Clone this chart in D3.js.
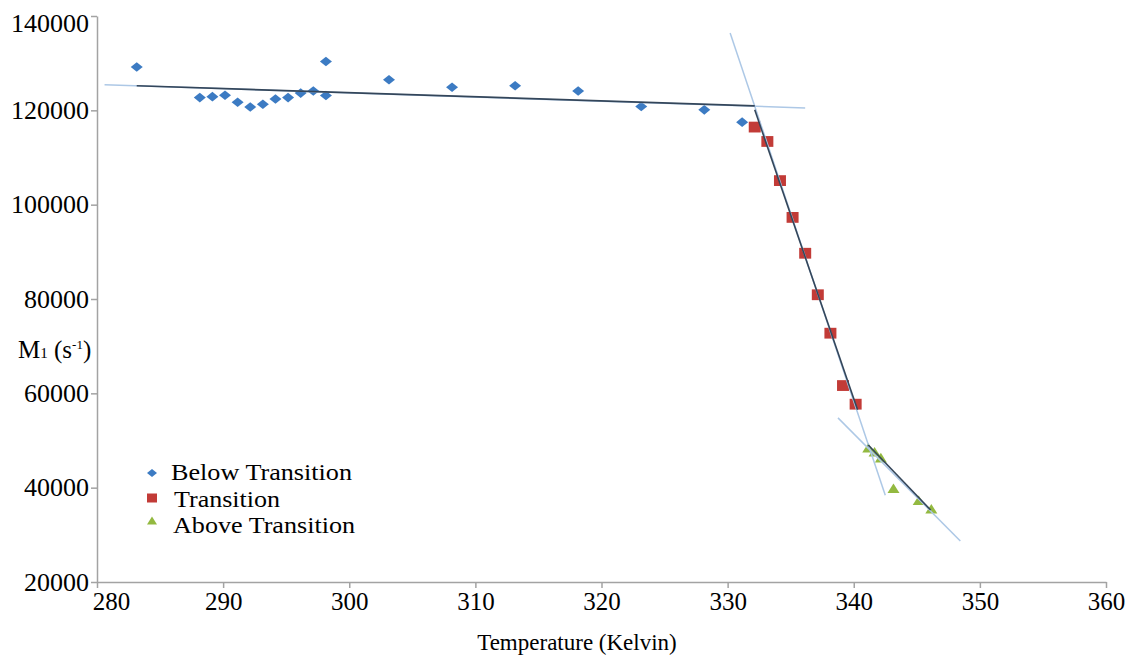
<!DOCTYPE html>
<html>
<head>
<meta charset="utf-8">
<script src="https://cdn.jsdelivr.net/npm/d3@7"></script>
<style>
  body { margin: 0; background: #fff; }
</style>
</head>
<body>
<div id="chart"></div>
<script>
// data (temperature in Kelvin, M1 in s-1)
var belowT = [283.15, 288.15, 289.15, 290.15, 291.15, 292.15, 293.15, 294.15, 295.15, 296.15,
  297.15, 298.15, 298.15, 303.15, 308.15, 313.15, 318.15, 323.15, 328.15, 331.15];
var belowM = [129200, 122700, 122900, 123200, 121700, 120700, 121300, 122400, 122700, 123650,
  124100, 130350, 123150, 126500, 124900, 125200, 124100, 120800, 120100, 117500];

var transT = [332.15, 333.15, 334.15, 335.15, 336.15, 337.15, 338.15, 339.15, 340.15];
var transM = [116450, 113400, 105100, 97300, 89700, 80900, 72750, 61650, 57700];

var aboveT = [341.15, 341.65, 342.15, 343.15, 345.15, 346.15];
var aboveM = [48350, 47500, 46250, 39750, 37200, 35400];

// trend lines: [T start, M start, T end, M end]
var belowFit = [283.15, 125200, 332.15, 120950];
var belowExt = [280.6, 125400, 336.15, 120500];
var transFit = [332.15, 120100, 340.3, 56500];
var transExt = [330.2, 136400, 342.5, 38400];
var aboveFit = [341.15, 49050, 346.1, 35250];
var aboveExt = [338.75, 54800, 348.45, 28700];

var xTicks = [280, 290, 300, 310, 320, 330, 340, 350, 360];
var yTicks = [20000, 40000, 60000, 80000, 100000, 120000, 140000];

var legendNames = ["Below Transition", "Transition", "Above Transition"];

var w = 1136,
h = 655;
var font = "Liberation Serif, Times New Roman, serif";

var svg = d3.select("#chart")
.append("svg")
.attr("width", w)
.attr("height", h);

// scales
var x = d3.scaleLinear()
.domain([280, 360])
.range([97, 1106]);

var y = d3.scaleLinear()
.domain([20000, 140000])
.range([582, 16]);

// X axis
var xAxis = svg.append("g")
.attr("transform", "translate(0," + y(20000) + ")")
.call(d3.axisBottom(x).tickValues(xTicks).tickFormat(d3.format("d")).tickSize(6).tickSizeOuter(0).tickPadding(4))
.attr("font-family", font)
.attr("font-size", 25);
xAxis.selectAll("text")
.style("font-family", font)
.style("font-size", "25px")
.attr("fill", "#000");
// first label sits to the right of the axis corner
xAxis.selectAll("text").filter(function(d) { return d === 280; })
.attr("dx", "14");

// Y axis
var yAxis = svg.append("g")
.attr("transform", "translate(" + x(280) + ",0)")
.call(d3.axisLeft(y).tickValues(yTicks).tickFormat(d3.format("d")).tickSize(6).tickSizeOuter(0).tickPadding(2))
.attr("font-family", font)
.attr("font-size", 26);
yAxis.selectAll("text")
.style("font-family", font)
.style("font-size", "26px")
.attr("fill", "#000");
yAxis.selectAll("text").filter(function(d) { return d === 140000; })
.attr("dy", "0.6em");

svg.selectAll(".domain, .tick line")
.attr("stroke", "#a3a3a3")
.attr("stroke-width", 1.5);

// axis titles
svg.append("text")
.attr("text-anchor", "middle")
.attr("x", 577)
.attr("y", 650)
.style("font-family", font)
.style("font-size", "23px")
.text("Temperature (Kelvin)");

var yTitle = svg.append("text")
.attr("x", 18)
.attr("y", 358)
.style("font-family", font)
.style("font-size", "25px");
yTitle.append("tspan").text("M");
yTitle.append("tspan").style("font-size", "15px").text("1");
yTitle.append("tspan").text(" (s");
yTitle.append("tspan").style("font-size", "13px").attr("dy", "-9").text("-1");
yTitle.append("tspan").attr("dy", "9").text(")");

// marker shapes, drawn around (0,0)
function diamond(s) { return "M0," + (-s * 0.8) + "L" + s + ",0L0," + (s * 0.8) + "L" + (-s) + ",0Z"; }
function square(s) { return "M" + (-s) + "," + (-s * 0.9) + "H" + s + "V" + (s * 0.9) + "H" + (-s) + "Z"; }
function triangle(s) { return "M0," + (-s * 0.9) + "L" + s + "," + (s * 0.7) + "L" + (-s) + "," + (s * 0.7) + "Z"; }

var series = [
  { t: belowT, m: belowM, color: "#3c7bc3", shape: diamond },
  { t: transT, m: transM, color: "#c23b37", shape: square },
  { t: aboveT, m: aboveM, color: "#93b940", shape: triangle }
];

// Points
series.forEach(function(s) {
  svg.selectAll("mypoint")
  .data(d3.range(s.t.length))
  .enter()
  .append("path")
  .attr("transform", function(i) { return "translate(" + x(s.t[i]) + "," + y(s.m[i]) + ")"; })
  .attr("d", s.shape(6))
  .attr("fill", s.color);
});

// trend lines, light extensions first then the dark fitted part
var ext = [belowExt, transExt, aboveExt];
var fits = [belowFit, transFit, aboveFit];

svg.selectAll("myext")
.data(ext)
.enter()
.append("line")
.attr("x1", function(d) { return x(d[0]); })
.attr("y1", function(d) { return y(d[1]); })
.attr("x2", function(d) { return x(d[2]); })
.attr("y2", function(d) { return y(d[3]); })
.attr("stroke", "#adc8e6")
.attr("stroke-width", 1.5);

svg.selectAll("myfit")
.data(fits)
.enter()
.append("line")
.attr("x1", function(d) { return x(d[0]); })
.attr("y1", function(d) { return y(d[1]); })
.attr("x2", function(d) { return x(d[2]); })
.attr("y2", function(d) { return y(d[3]); })
.attr("stroke", "#34465a")
.attr("stroke-width", 1.6);

// Legend
var legend = svg.selectAll("mylegend")
.data(legendNames)
.enter()
.append("g")
.attr("transform", function(d, i) { return "translate(152," + [473, 498, 521][i] + ")"; });

legend.append("path")
.attr("d", function(d, i) { return series[i].shape(5); })
.attr("fill", function(d, i) { return series[i].color; });

// the legend text in the picture is a little wider than the font gives
legend.append("text")
.attr("x", function(d, i) { return [19, 22, 21][i]; })
.attr("y", function(d, i) { return [7, 9, 12][i]; })
.attr("textLength", function(d, i) { return [181, 106, 182][i]; })
.attr("lengthAdjust", "spacingAndGlyphs")
.style("font-family", font)
.style("font-size", "24px")
.text(function(d) { return d; });
</script>
</body>
</html>
